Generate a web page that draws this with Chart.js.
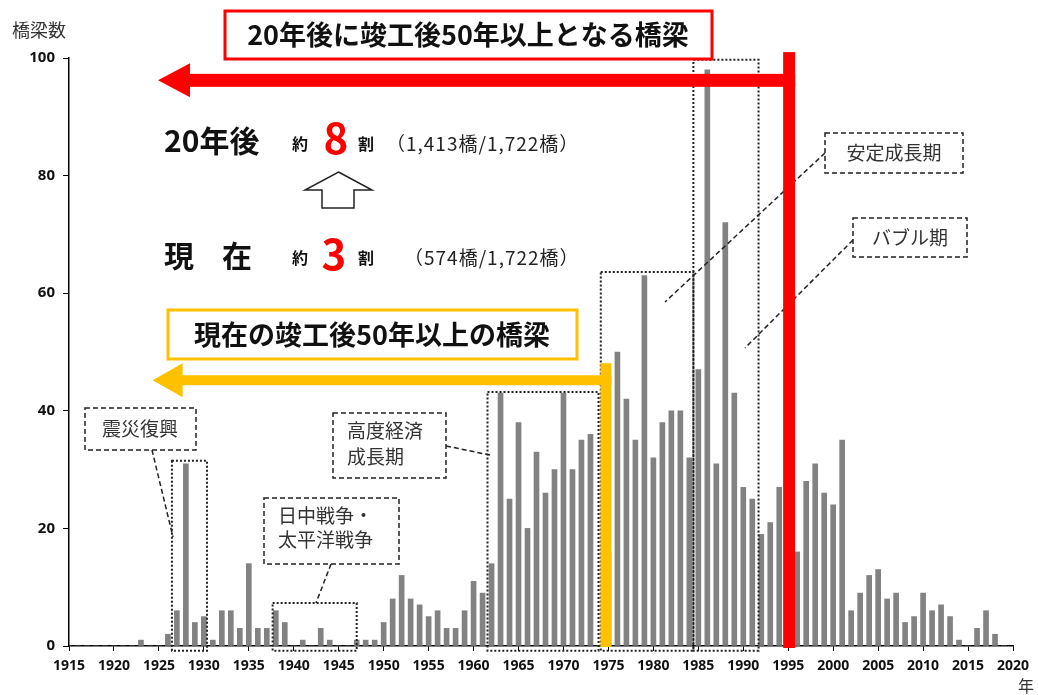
<!DOCTYPE html>
<html lang="ja">
<head>
<meta charset="utf-8">
<script src="https://cdn.jsdelivr.net/npm/chart.js@4.4.0/dist/chart.umd.min.js"></script>
<style>
  body { margin: 0; background: #fff; }
  #wrap { width: 1038px; height: 695px; }
</style>
</head>
<body>
<div id="wrap"><canvas id="c" width="1038" height="695"></canvas></div>
<script>
// bridges completed per year, 1915 .. 2019
const firstYear = 1915;
const bridgeCounts = [
  0, 0, 0, 0, 0, 0, 0, 0, 1, 0,        // 1915-1924
  0, 2, 6, 31, 4, 5, 1, 6, 6, 3,       // 1925-1934
  14, 3, 3, 6, 4, 0, 1, 0, 3, 1,       // 1935-1944
  0, 0, 1, 1, 1, 4, 8, 12, 8, 7,       // 1945-1954
  5, 6, 3, 3, 6, 11, 9, 14, 43, 25,    // 1955-1964
  38, 20, 33, 26, 30, 43, 30, 35, 36, 0,  // 1965-1974
  16, 50, 42, 35, 63, 32, 38, 40, 40, 32, // 1975-1984
  47, 98, 31, 72, 43, 27, 25, 19, 21, 27, // 1985-1994
  57, 16, 28, 31, 26, 24, 35, 6, 9, 12,   // 1995-2004
  13, 8, 9, 4, 5, 9, 6, 7, 5, 1,          // 2005-2014
  0, 3, 6, 2, 0                           // 2015-2019
];
const years = bridgeCounts.map((_, i) => firstYear + i);
const yTicks = [0, 20, 40, 60, 80, 100];

const JP = '"Noto Sans CJK JP", "Noto Sans", sans-serif';

function dashedBox(ctx, x, y, w, h) {
  ctx.save();
  ctx.setLineDash([5, 3]);
  ctx.lineWidth = 1.5;
  ctx.strokeStyle = '#222';
  ctx.fillStyle = '#fff';
  ctx.fillRect(x, y, w, h);
  ctx.strokeRect(x, y, w, h);
  ctx.restore();
}

function dashedLine(ctx, x1, y1, x2, y2) {
  ctx.save();
  ctx.setLineDash([5, 3]);
  ctx.lineWidth = 1.5;
  ctx.strokeStyle = '#222';
  ctx.beginPath();
  ctx.moveTo(x1, y1);
  ctx.lineTo(x2, y2);
  ctx.stroke();
  ctx.restore();
}

function dottedRect(ctx, x1, y1, x2, y2) {
  ctx.save();
  ctx.setLineDash([2, 2]);
  ctx.lineWidth = 2;
  ctx.strokeStyle = '#222';
  ctx.strokeRect(x1, y1, x2 - x1, y2 - y1);
  ctx.restore();
}

function leftArrow(ctx, tipX, y, endX, thick, headLen, headHalf, color) {
  ctx.fillStyle = color;
  ctx.fillRect(tipX + headLen - 1, y - thick / 2, endX - tipX - headLen + 1, thick);
  ctx.beginPath();
  ctx.moveTo(tipX, y);
  ctx.lineTo(tipX + headLen, y - headHalf);
  ctx.lineTo(tipX + headLen, y + headHalf);
  ctx.closePath();
  ctx.fill();
}

function txt(ctx, s, x, y, font, color, align, spacing) {
  ctx.font = font;
  ctx.fillStyle = color || '#111';
  ctx.textAlign = align || 'left';
  ctx.textBaseline = 'middle';
  ctx.letterSpacing = spacing || '0px';
  ctx.fillText(s, x, y);
  ctx.letterSpacing = '0px';
}

const overlay = {
  id: 'overlay',
  afterDraw(chart) {
    const ctx = chart.ctx;
    const xs = chart.scales.x, ys = chart.scales.y;
    const X = v => xs.getPixelForValue(v);
    const Y = v => ys.getPixelForValue(v);
    ctx.save();

    // period frames
    dottedRect(ctx, X(1926.45), Y(31.5), X(1930.35), Y(-0.8));
    dottedRect(ctx, X(1937.65), Y(7.3), X(1947.0), Y(-0.8));
    dottedRect(ctx, X(1961.55), Y(43.2), X(1973.9), Y(-0.8));
    dottedRect(ctx, X(1974.15), Y(63.6), X(1984.45), Y(-0.8));
    dottedRect(ctx, X(1984.45), Y(99.7), X(1991.7), Y(-0.8));

    // leader lines
    dashedLine(ctx, 152, 450, 173, 537);
    dashedLine(ctx, 331, 564, 316, 603);
    dashedLine(ctx, 446, 446, 490, 455);
    dashedLine(ctx, 825, 153, 665, 302);
    dashedLine(ctx, 853, 240, 745, 348);

    // labelled boxes
    dashedBox(ctx, 85, 408, 111, 42);
    txt(ctx, '震災復興', 140, 429, '19px ' + JP, '#333', 'center');
    dashedBox(ctx, 333, 413, 113, 65);
    txt(ctx, '高度経済', 347, 431, '19px ' + JP, '#333');
    txt(ctx, '成長期', 347, 457, '19px ' + JP, '#333');
    dashedBox(ctx, 264, 498, 135, 66);
    txt(ctx, '日中戦争・', 278, 516, '19px ' + JP, '#333');
    txt(ctx, '太平洋戦争', 278, 540, '19px ' + JP, '#333');
    dashedBox(ctx, 825, 133, 138, 40);
    txt(ctx, '安定成長期', 894, 153, '19px ' + JP, '#333', 'center');
    dashedBox(ctx, 853, 218, 114, 39);
    txt(ctx, 'バブル期', 910, 238, '19px ' + JP, '#333', 'center');

    // yellow: current
    const yx = X(1974.72), yTop = Y(48.1), yArm = Y(45.2);
    ctx.fillStyle = '#FFC000';
    ctx.fillRect(yx - 5.5, yTop, 11, Y(0) - yTop + 1);
    leftArrow(ctx, X(1924.3), yArm, yx + 5.5, 10, 30, 17, '#FFC000');

    // red: 20 years later
    const rx = X(1995.1), rTop = Y(101), rArm = Y(96.2);
    ctx.fillStyle = '#FF0000';
    ctx.fillRect(rx - 6, rTop, 12, Y(0) - rTop + 2);
    leftArrow(ctx, X(1924.9), rArm, rx + 6, 13, 32, 17, '#FF0000');

    // headline boxes
    ctx.fillStyle = '#fff';
    ctx.fillRect(225, 11, 487, 48);
    ctx.lineWidth = 3;
    ctx.strokeStyle = '#FF0000';
    ctx.strokeRect(225, 11, 487, 48);
    txt(ctx, '20年後に竣工後50年以上となる橋梁', 468, 35, 'bold 27px ' + JP, '#111', 'center');

    ctx.fillStyle = '#fff';
    ctx.fillRect(168, 310, 409, 49);
    ctx.strokeStyle = '#FFC000';
    ctx.strokeRect(168, 310, 409, 49);
    txt(ctx, '現在の竣工後50年以上の橋梁', 372, 335, 'bold 27px ' + JP, '#111', 'center');

    // ratio text
    txt(ctx, '20年後', 164, 141, 'bold 30px ' + JP);
    txt(ctx, '約', 292, 144, 'bold 16px ' + JP);
    txt(ctx, '8', 336, 138, 'bold 42px ' + JP, '#FF0000', 'center');
    txt(ctx, '割', 358, 144, 'bold 16px ' + JP);
    txt(ctx, '（1,413橋/1,722橋）', 386, 144, '19px ' + JP, '#222', 'left', '1px');

    txt(ctx, '現', 164, 256, 'bold 30px ' + JP);
    txt(ctx, '在', 222, 256, 'bold 30px ' + JP);
    txt(ctx, '約', 292, 258, 'bold 16px ' + JP);
    txt(ctx, '3', 334, 254, 'bold 42px ' + JP, '#FF0000', 'center');
    txt(ctx, '割', 358, 258, 'bold 16px ' + JP);
    txt(ctx, '（574橋/1,722橋）', 404, 258, '19px ' + JP, '#222', 'left', '1px');

    // hollow up arrow
    ctx.beginPath();
    ctx.moveTo(338.5, 172);
    ctx.lineTo(372, 190);
    ctx.lineTo(354, 190);
    ctx.lineTo(354, 208);
    ctx.lineTo(322, 208);
    ctx.lineTo(322, 190);
    ctx.lineTo(305, 190);
    ctx.closePath();
    ctx.fillStyle = '#fff';
    ctx.fill();
    ctx.lineWidth = 1.5;
    ctx.strokeStyle = '#222';
    ctx.stroke();

    // axis titles
    txt(ctx, '橋梁数', 12, 30, '18px ' + JP, '#333');
    txt(ctx, '年', 1018, 686, '16px ' + JP, '#333');
    ctx.restore();
  }
};

new Chart(document.getElementById('c'), {
  type: 'bar',
  data: {
    datasets: [{
      data: years.map((yr, i) => ({ x: yr, y: bridgeCounts[i] })),
      backgroundColor: '#828282',
      borderWidth: 0,
      barThickness: 5
    }]
  },
  options: {
    responsive: false,
    animation: false,
    layout: { padding: { top: 58, right: 25, left: 0, bottom: 0 } },
    plugins: {
      legend: { display: false },
      tooltip: { enabled: false }
    },
    scales: {
      x: {
        type: 'linear',
        min: 1915,
        max: 2020,
        offset: false,
        ticks: {
          stepSize: 5,
          autoSkip: false,
          maxRotation: 0,
          padding: 7,
          color: '#111',
          font: { family: '"Noto Sans", sans-serif', size: 14, weight: 'bold' },
          callback: v => String(v)
        },
        grid: { drawOnChartArea: false, offset: false, tickLength: 5, color: '#000' },
        border: { color: '#000', width: 1.5 },
        afterFit: s => { s.height = 49; }
      },
      y: {
        min: 0,
        max: 100,
        afterBuildTicks: s => { s.ticks = yTicks.map(v => ({ value: v })); },
        ticks: {
          padding: 8,
          color: '#111',
          font: { family: '"Noto Sans", sans-serif', size: 15, weight: 'bold' }
        },
        grid: { drawOnChartArea: false, tickLength: 6, color: '#000' },
        border: { color: '#000', width: 1.5 },
        afterFit: s => { s.width = 69; }
      }
    }
  },
  plugins: [overlay]
});
</script>
</body>
</html>
